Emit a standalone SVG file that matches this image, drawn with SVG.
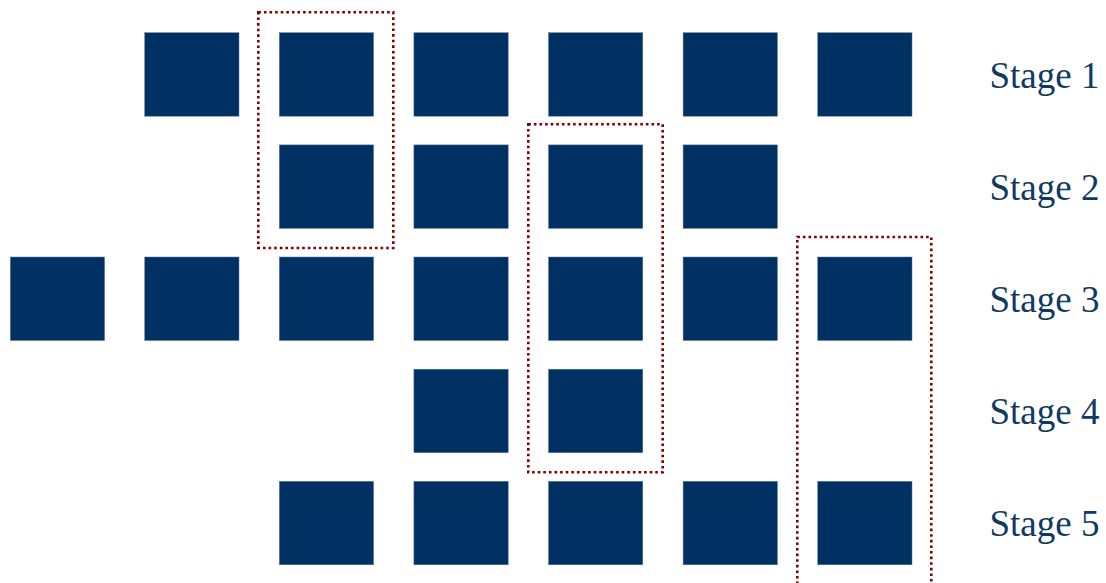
<svg xmlns="http://www.w3.org/2000/svg" width="1106" height="583" viewBox="0 0 1106 583">
<style>
.sq{fill:#003162;stroke:#5a7aa0;stroke-width:0.5}
.dot{fill:none;stroke:#7f0000;stroke-width:2.6;stroke-dasharray:2.6 3}
.lbl{font-size:37px;fill:#0f3a66}
</style>
<rect width="1106" height="583" fill="#ffffff"/>
<defs><rect id="s" class="sq" width="94.3" height="83.5"/></defs>
<g id="row1">
<use href="#s" x="144.7" y="32.7"/><use href="#s" x="279.3" y="32.7"/><use href="#s" x="413.9" y="32.7"/><use href="#s" x="548.5" y="32.7"/><use href="#s" x="683.1" y="32.7"/><use href="#s" x="817.7" y="32.7"/>
</g>
<g id="row2">
<use href="#s" x="279.3" y="144.9"/><use href="#s" x="413.9" y="144.9"/><use href="#s" x="548.5" y="144.9"/><use href="#s" x="683.1" y="144.9"/>
</g>
<g id="row3">
<use href="#s" x="10.3" y="257"/><use href="#s" x="144.7" y="257"/><use href="#s" x="279.3" y="257"/><use href="#s" x="413.9" y="257"/><use href="#s" x="548.5" y="257"/><use href="#s" x="683.1" y="257"/><use href="#s" x="817.7" y="257"/>
</g>
<g id="row4">
<use href="#s" x="413.9" y="369.2"/><use href="#s" x="548.5" y="369.2"/>
</g>
<g id="row5">
<use href="#s" x="279.3" y="481.3"/><use href="#s" x="413.9" y="481.3"/><use href="#s" x="548.5" y="481.3"/><use href="#s" x="683.1" y="481.3"/><use href="#s" x="817.7" y="481.3"/>
</g>
<g id="highlights">
<rect class="dot" x="258.3" y="12.3" width="135" height="235.7"/>
<rect class="dot" x="528.3" y="124.3" width="134.4" height="348"/>
<rect class="dot" x="797.3" y="237" width="134" height="370"/>
</g>
<g id="labels" font-family="'Liberation Serif', 'Times New Roman', serif">
<text class="lbl" x="989.5" y="87.5">Stage 1</text>
<text class="lbl" x="989.5" y="199.7">Stage 2</text>
<text class="lbl" x="989.5" y="311.8">Stage 3</text>
<text class="lbl" x="989.5" y="424">Stage 4</text>
<text class="lbl" x="989.5" y="536.2">Stage 5</text>
</g>
</svg>
